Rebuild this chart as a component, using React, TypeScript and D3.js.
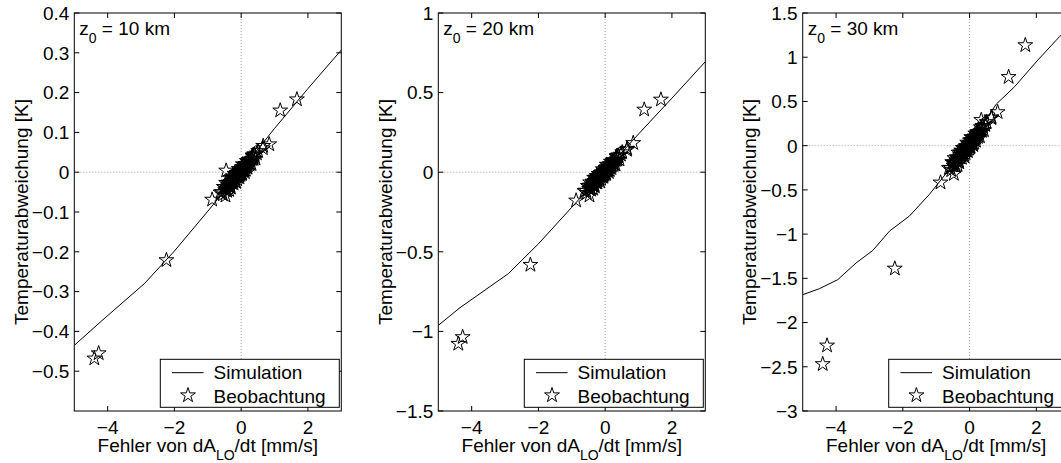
import React from "react";
import * as d3 from "d3";

// ---------- data ----------
const depths = ["10", "20", "30"];

const simX10 = [-5, -4.2, -2.9, -2, -1, 0, 1, 2, 3];
const simY10 = [-0.435, -0.375, -0.28, -0.198, -0.098, 0.005, 0.11, 0.21, 0.307];

const simX20 = [-5, -4.35, -2.9, -2, -1, 0, 1, 2, 3];
const simY20 = [-0.962, -0.851, -0.637, -0.45, -0.22, 0.01, 0.24, 0.465, 0.694];

const simX30 = [-5, -4.5, -3.95, -3.4, -2.9, -2.4, -1.8, -1.2, 0, 0.8, 1.35, 2.05, 2.7, 3];
const simY30 = [-1.685, -1.617, -1.515, -1.326, -1.185, -0.966, -0.795, -0.549, 0.02, 0.47, 0.667, 0.97, 1.235, 1.33];

const obsX = [
  -4.4, -4.27, -2.24, -0.87, -0.47, -0.45, 0.66, 0.84, 1.17, 1.67, 0.35, 0.65,
  -0.62, -0.55, -0.52, -0.48, -0.45, -0.42, -0.4, -0.38, -0.35, -0.33, -0.31, -0.29,
  -0.27, -0.25, -0.23, -0.21, -0.19, -0.17, -0.15, -0.13, -0.11, -0.09, -0.07, -0.05,
  -0.03, -0.01, 0.01, 0.03, 0.05, 0.07, 0.09, 0.11, 0.13, 0.15, 0.17, 0.19,
  0.21, 0.23, 0.25, 0.28, 0.31, 0.34, 0.37, 0.4, 0.43, 0.47, 0.51, -0.36, -0.2, 0.02,
  -0.58, -0.5, -0.44, -0.37, -0.32, -0.28, -0.24, -0.22, -0.18, -0.16, -0.14, -0.12,
  -0.1, -0.08, -0.06, -0.04, -0.02, 0.0, 0.04, 0.06, 0.08, 0.1, 0.12, 0.14,
  0.16, 0.2, 0.24, 0.27, 0.32, 0.38,
];
const obsY10 = [
  -0.468, -0.455, -0.221, -0.069, -0.059, 0.004, 0.066, 0.07, 0.155, 0.183, 0.04, 0.06,
  -0.051, -0.056, -0.037, -0.045, -0.027, -0.047, -0.033, -0.026, -0.036, -0.015, -0.039, -0.022,
  -0.027, -0.011, -0.028, -0.011, -0.017, -0.005, -0.025, -0.006, -0.001, -0.012, 0.008, -0.013,
  0.001, -0.002, 0.012, -0.003, 0.02, 0.004, 0.013, 0.0, 0.02, 0.014, 0.028, 0.011,
  0.026, 0.031, 0.019, 0.031, 0.02, 0.042, 0.033, 0.045, 0.034, 0.047, 0.053, -0.045, -0.004, -0.005,
  -0.05, -0.038, -0.043, -0.029, -0.035, -0.015, -0.022, -0.014, -0.021, -0.011, -0.003, -0.018,
  -0.007, -0.001, -0.008, 0.004, -0.007, 0.005, 0.013, 0.005, 0.018, 0.005, 0.015, 0.006,
  0.021, 0.017, 0.03, 0.022, 0.033, 0.044,
];
const obsY20 = [
  -1.078, -1.036, -0.582, -0.178, -0.147, -0.084, 0.147, 0.183, 0.393, 0.456, 0.1, 0.14,
  -0.118, -0.131, -0.086, -0.105, -0.064, -0.11, -0.078, -0.059, -0.084, -0.035, -0.09, -0.05,
  -0.064, -0.024, -0.066, -0.026, -0.039, -0.011, -0.059, -0.013, -0.001, -0.028, 0.018, -0.03,
  0.002, -0.004, 0.028, -0.006, 0.047, 0.01, 0.031, 0.001, 0.047, 0.034, 0.066, 0.025,
  0.061, 0.072, 0.045, 0.072, 0.047, 0.099, 0.078, 0.105, 0.08, 0.11, 0.125, -0.104, -0.01, -0.012,
  -0.116, -0.089, -0.1, -0.068, -0.081, -0.034, -0.05, -0.032, -0.048, -0.026, -0.008, -0.042,
  -0.017, -0.002, -0.018, 0.01, -0.017, 0.012, 0.031, 0.011, 0.043, 0.013, 0.034, 0.014,
  0.05, 0.041, 0.071, 0.053, 0.077, 0.104,
];
const obsY30 = [
  -2.47, -2.26, -1.39, -0.417, -0.32, -0.19, 0.32, 0.379, 0.776, 1.136, 0.29, 0.31,
  -0.254, -0.278, -0.187, -0.225, -0.141, -0.232, -0.167, -0.13, -0.179, -0.079, -0.189, -0.109,
  -0.135, -0.056, -0.138, -0.059, -0.084, -0.026, -0.122, -0.029, -0.006, -0.059, 0.034, -0.062,
  0.003, -0.009, 0.057, -0.011, 0.096, 0.021, 0.065, 0.005, 0.098, 0.072, 0.137, 0.055,
  0.128, 0.151, 0.097, 0.153, 0.104, 0.208, 0.166, 0.222, 0.173, 0.233, 0.266, -0.219, -0.026, -0.023,
  -0.25, -0.192, -0.213, -0.146, -0.172, -0.077, -0.107, -0.07, -0.101, -0.057, -0.019, -0.087,
  -0.036, -0.006, -0.039, 0.02, -0.034, 0.024, 0.063, 0.024, 0.089, 0.028, 0.072, 0.032,
  0.105, 0.088, 0.148, 0.113, 0.164, 0.22,
];

const xDomain = [-5, 3];
const xTicks = [-4, -2, 0, 2];
const yDomains = [[-0.6, 0.4], [-1.5, 1], [-3, 1.5]];
const yTicks10 = [-0.5, -0.4, -0.3, -0.2, -0.1, 0, 0.1, 0.2, 0.3, 0.4];
const yTicks20 = [-1.5, -1, -0.5, 0, 0.5, 1];
const yTicks30 = [-3, -2.5, -2, -1.5, -1, -0.5, 0, 0.5, 1, 1.5];
const legendLabels = ["Simulation", "Beobachtung"];

const simXs = [simX10, simX20, simX30];
const simYs = [simY10, simY20, simY30];
const obsYs = [obsY10, obsY20, obsY30];
const yTickSets = [yTicks10, yTicks20, yTicks30];

// ---------- layout ----------
const W = 1061;
const H = 463;
const TOP = 13;
const PH = 398;
const PW = 267;
const LEFTS = [74.3, 438.3, 802.7];
const FONT = "'Liberation Sans', Arial, Helvetica, sans-serif";
const FS = 19;
const TICK = 5;

const fmt = d3.format(".1~f");

function starPath(cx: number, cy: number, R: number) {
  const r = R * 0.382;
  const pts: [number, number][] = [];
  for (let i = 0; i < 10; i++) {
    const rad = i % 2 === 0 ? R : r;
    const a = -Math.PI / 2 + (i * Math.PI) / 5;
    pts.push([cx + rad * Math.cos(a), cy + rad * Math.sin(a)]);
  }
  return "M" + pts.map((p) => p[0].toFixed(2) + "," + p[1].toFixed(2)).join("L") + "Z";
}

function Panel({ idx }: { idx: number }) {
  const left = LEFTS[idx];
  const x = d3.scaleLinear().domain(xDomain).range([left, left + PW]);
  const y = d3.scaleLinear().domain(yDomains[idx]).range([TOP + PH, TOP]);
  const sx = simXs[idx];
  const sy = simYs[idx];
  const line = d3
    .line<number>()
    .x((d, i) => x(sx[i]))
    .y((d) => y(d));
  const oy = obsYs[idx];
  const clipId = "clip" + idx;
  const cx = (left + left + PW) / 2;
  const lgX = left + 86;
  const lgY = 359.3;
  return (
    <g>
      <defs>
        <clipPath id={clipId}>
          <rect x={left} y={TOP} width={PW} height={PH} />
        </clipPath>
      </defs>
      {/* zero lines */}
      <line x1={x(0)} x2={x(0)} y1={TOP} y2={TOP + PH} stroke="#a0a0a0" strokeWidth={1} strokeDasharray="1,2" />
      <line x1={left} x2={left + PW} y1={y(0)} y2={y(0)} stroke="#a0a0a0" strokeWidth={1} strokeDasharray="1,2" />
      <g clipPath={`url(#${clipId})`}>
        <path d={line(sy) || ""} fill="none" stroke="#000" strokeWidth={1} />
        {obsX.map((xv, i) => (
          <path key={i} d={starPath(x(xv), y(oy[i]), 7.8)} fill="none" stroke="#000" strokeWidth={1} />
        ))}
      </g>
      {/* box */}
      <rect x={left} y={TOP} width={PW} height={PH} fill="none" stroke="#000" strokeWidth={1} />
      {/* x ticks */}
      {xTicks.map((t) => (
        <g key={"xt" + t}>
          <line x1={x(t)} x2={x(t)} y1={TOP + PH} y2={TOP + PH - TICK} stroke="#000" />
          <line x1={x(t)} x2={x(t)} y1={TOP} y2={TOP + TICK} stroke="#000" />
          <text x={x(t)} y={434} textAnchor="middle" fontSize={FS} fontFamily={FONT}>
            {fmt(t)}
          </text>
        </g>
      ))}
      {/* y ticks */}
      {yTickSets[idx].map((t) => (
        <g key={"yt" + t}>
          <line x1={left} x2={left + TICK} y1={y(t)} y2={y(t)} stroke="#000" />
          <line x1={left + PW} x2={left + PW - TICK} y1={y(t)} y2={y(t)} stroke="#000" />
          <text x={left - 5} y={y(t)} dy="0.36em" textAnchor="end" fontSize={FS} fontFamily={FONT}>
            {fmt(t)}
          </text>
        </g>
      ))}
      {/* y label */}
      <text
        transform={`translate(${left - 46.5},${TOP + PH / 2}) rotate(-90)`}
        textAnchor="middle"
        fontSize={FS}
        fontFamily={FONT}
      >
        Temperaturabweichung [K]
      </text>
      {/* x label */}
      <text x={cx} y={451.5} textAnchor="middle" fontSize={FS} fontFamily={FONT}>
        Fehler von dA
        <tspan fontSize={14} dy={8}>LO</tspan>
        <tspan dy={-8}>/dt [mm/s]</tspan>
      </text>
      {/* z0 label */}
      <text x={left + 5} y={35} fontSize={FS} fontFamily={FONT}>
        z<tspan fontSize={14} dy={8}>0</tspan>
        <tspan dy={-8}>{" = " + depths[idx] + " km"}</tspan>
      </text>
      {/* legend */}
      <rect x={lgX} y={lgY} width={179} height={48} fill="#fff" stroke="#000" strokeWidth={1} />
      <line x1={lgX + 11.7} x2={lgX + 43.3} y1={lgY + 13.4} y2={lgY + 13.4} stroke="#000" strokeWidth={1} />
      <text x={lgX + 53.3} y={lgY + 20} fontSize={FS} fontFamily={FONT}>
        {legendLabels[0]}
      </text>
      <path d={starPath(lgX + 27.7, lgY + 36, 7.8)} fill="none" stroke="#000" strokeWidth={1} />
      <text x={lgX + 53.3} y={lgY + 43.4} fontSize={FS} fontFamily={FONT}>
        {legendLabels[1]}
      </text>
    </g>
  );
}

export default function App() {
  return (
    <svg
      width={W}
      height={H}
      style={{ position: "absolute", left: 0, top: 0, background: "#fff", overflow: "hidden" }}
    >
      <rect x={0} y={0} width={W} height={H} fill="#fff" />
      {[0, 1, 2].map((i) => (
        <Panel key={i} idx={i} />
      ))}
    </svg>
  );
}
